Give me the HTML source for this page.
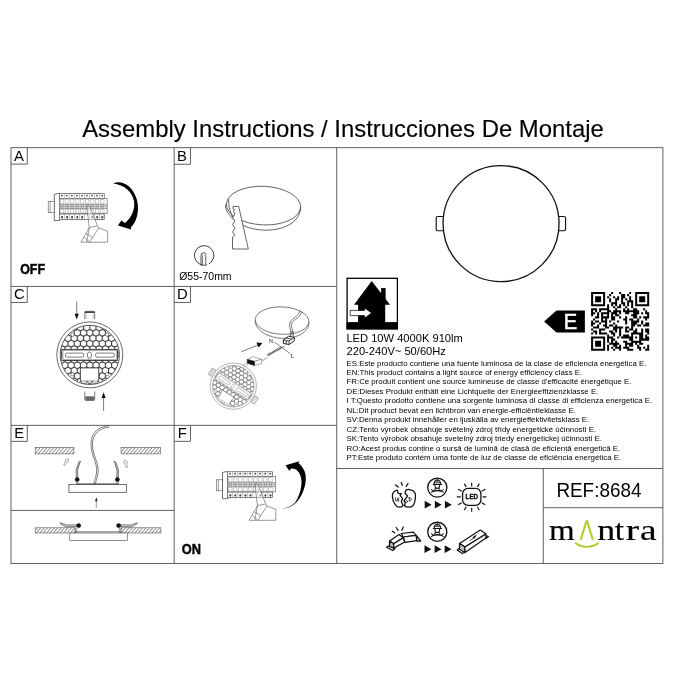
<!DOCTYPE html>
<html>
<head>
<meta charset="utf-8">
<title>Assembly Instructions</title>
<style>
html,body{margin:0;padding:0;background:#fff;}
body{width:676px;height:676px;overflow:hidden;position:relative;font-family:"Liberation Sans",sans-serif;}
svg{position:absolute;left:0;top:0;will-change:opacity;}
text{font-family:"Liberation Sans",sans-serif;fill:#000;}
.serif{font-family:"Liberation Serif",serif;}
.g{stroke:#444;stroke-width:0.85;fill:none;}
.k{stroke:#222;stroke-width:1;fill:none;}
.t{stroke:#555;stroke-width:0.6;fill:none;}
.s{font-size:7.84px;}
</style>
</head>
<body>
<svg width="676" height="676" viewBox="0 0 676 676">
<defs>
<g id="breaker" class="t">
<rect x="48.2" y="201.7" width="6.1" height="11" />
<line x1="50.2" y1="201.7" x2="50.2" y2="212.7"/>
<path d="M54.3,194.4 L57.5,193.6 L59.5,193.6 L59.5,220.6 L54.3,220.6 Z" fill="#fff" stroke="#333" stroke-width="0.7"/>
<rect x="59.5" y="193.7" width="44.7" height="4.8" fill="#fff" stroke="#333"/>
<rect x="59.5" y="198.5" width="47.6" height="15.2" fill="#fff"/>
<line x1="59.5" y1="204.6" x2="107.1" y2="204.6"/>
<line x1="59.5" y1="208.5" x2="107.1" y2="208.5"/>
<line x1="59.5" y1="206.5" x2="107.1" y2="206.5" stroke="#777"/>
<rect x="59.5" y="204.6" width="47.6" height="3.9" fill="#bbb" fill-opacity="0.5" stroke="none"/>
<rect x="59.5" y="214" width="44.7" height="5.4" fill="#fff" stroke="#333"/>
<circle cx="61.9" cy="195.6" r="0.9" fill="#444" stroke="none"/>
<line x1="59.4" y1="193.7" x2="59.4" y2="198.5" stroke="#999"/>
<rect x="60.2" y="199.6" width="3.6" height="4" stroke="#aaa"/>
<rect x="60.2" y="209.4" width="3.6" height="3.6" stroke="#aaa"/>
<line x1="61.0" y1="204.6" x2="61.0" y2="208.5" stroke="#777"/>
<line x1="63.0" y1="204.6" x2="63.0" y2="208.5" stroke="#777"/>
<circle cx="62.1" cy="217.2" r="1.1" fill="#444" stroke="none"/>
<line x1="62.1" y1="218" x2="62.1" y2="220.3" stroke="#666"/>
<line x1="59.4" y1="214" x2="59.4" y2="219.4" stroke="#999"/>
<circle cx="66.9" cy="195.6" r="0.9" fill="#444" stroke="none"/>
<line x1="64.4" y1="193.7" x2="64.4" y2="198.5" stroke="#999"/>
<rect x="65.2" y="199.6" width="3.6" height="4" stroke="#aaa"/>
<rect x="65.2" y="209.4" width="3.6" height="3.6" stroke="#aaa"/>
<line x1="66.0" y1="204.6" x2="66.0" y2="208.5" stroke="#777"/>
<line x1="68.0" y1="204.6" x2="68.0" y2="208.5" stroke="#777"/>
<circle cx="67.1" cy="217.2" r="1.1" fill="#444" stroke="none"/>
<line x1="67.1" y1="218" x2="67.1" y2="220.3" stroke="#666"/>
<line x1="64.4" y1="214" x2="64.4" y2="219.4" stroke="#999"/>
<circle cx="71.9" cy="195.6" r="0.9" fill="#444" stroke="none"/>
<line x1="69.4" y1="193.7" x2="69.4" y2="198.5" stroke="#999"/>
<rect x="70.2" y="199.6" width="3.6" height="4" stroke="#aaa"/>
<rect x="70.2" y="209.4" width="3.6" height="3.6" stroke="#aaa"/>
<line x1="71.0" y1="204.6" x2="71.0" y2="208.5" stroke="#777"/>
<line x1="73.0" y1="204.6" x2="73.0" y2="208.5" stroke="#777"/>
<circle cx="72.1" cy="217.2" r="1.1" fill="#444" stroke="none"/>
<line x1="72.1" y1="218" x2="72.1" y2="220.3" stroke="#666"/>
<line x1="69.4" y1="214" x2="69.4" y2="219.4" stroke="#999"/>
<circle cx="77.0" cy="195.6" r="0.9" fill="#444" stroke="none"/>
<line x1="74.5" y1="193.7" x2="74.5" y2="198.5" stroke="#999"/>
<rect x="75.3" y="199.6" width="3.6" height="4" stroke="#aaa"/>
<rect x="75.3" y="209.4" width="3.6" height="3.6" stroke="#aaa"/>
<line x1="76.1" y1="204.6" x2="76.1" y2="208.5" stroke="#777"/>
<line x1="78.1" y1="204.6" x2="78.1" y2="208.5" stroke="#777"/>
<circle cx="77.2" cy="217.2" r="1.1" fill="#444" stroke="none"/>
<line x1="77.2" y1="218" x2="77.2" y2="220.3" stroke="#666"/>
<line x1="74.5" y1="214" x2="74.5" y2="219.4" stroke="#999"/>
<circle cx="82.0" cy="195.6" r="0.9" fill="#444" stroke="none"/>
<line x1="79.5" y1="193.7" x2="79.5" y2="198.5" stroke="#999"/>
<rect x="80.3" y="199.6" width="3.6" height="4" stroke="#aaa"/>
<rect x="80.3" y="209.4" width="3.6" height="3.6" stroke="#aaa"/>
<line x1="81.1" y1="204.6" x2="81.1" y2="208.5" stroke="#777"/>
<line x1="83.1" y1="204.6" x2="83.1" y2="208.5" stroke="#777"/>
<circle cx="82.2" cy="217.2" r="1.1" fill="#444" stroke="none"/>
<line x1="82.2" y1="218" x2="82.2" y2="220.3" stroke="#666"/>
<line x1="79.5" y1="214" x2="79.5" y2="219.4" stroke="#999"/>
<circle cx="87.0" cy="195.6" r="0.9" fill="#444" stroke="none"/>
<line x1="84.5" y1="193.7" x2="84.5" y2="198.5" stroke="#999"/>
<rect x="85.3" y="199.6" width="3.6" height="4" stroke="#aaa"/>
<rect x="85.3" y="209.4" width="3.6" height="3.6" stroke="#aaa"/>
<line x1="86.1" y1="204.6" x2="86.1" y2="208.5" stroke="#777"/>
<line x1="88.1" y1="204.6" x2="88.1" y2="208.5" stroke="#777"/>
<line x1="84.5" y1="214" x2="84.5" y2="219.4" stroke="#999"/>
<circle cx="92.0" cy="195.6" r="0.9" fill="#444" stroke="none"/>
<line x1="89.5" y1="193.7" x2="89.5" y2="198.5" stroke="#999"/>
<rect x="90.3" y="199.6" width="3.6" height="4" stroke="#aaa"/>
<rect x="90.3" y="209.4" width="3.6" height="3.6" stroke="#aaa"/>
<line x1="91.1" y1="204.6" x2="91.1" y2="208.5" stroke="#777"/>
<line x1="93.1" y1="204.6" x2="93.1" y2="208.5" stroke="#777"/>
<circle cx="92.2" cy="217.2" r="1.1" fill="#444" stroke="none"/>
<line x1="92.2" y1="218" x2="92.2" y2="220.3" stroke="#666"/>
<line x1="89.5" y1="214" x2="89.5" y2="219.4" stroke="#999"/>
<circle cx="97.0" cy="195.6" r="0.9" fill="#444" stroke="none"/>
<line x1="94.5" y1="193.7" x2="94.5" y2="198.5" stroke="#999"/>
<rect x="95.3" y="199.6" width="3.6" height="4" stroke="#aaa"/>
<rect x="95.3" y="209.4" width="3.6" height="3.6" stroke="#aaa"/>
<line x1="96.1" y1="204.6" x2="96.1" y2="208.5" stroke="#777"/>
<line x1="98.1" y1="204.6" x2="98.1" y2="208.5" stroke="#777"/>
<circle cx="97.2" cy="217.2" r="1.1" fill="#444" stroke="none"/>
<line x1="97.2" y1="218" x2="97.2" y2="220.3" stroke="#666"/>
<line x1="94.5" y1="214" x2="94.5" y2="219.4" stroke="#999"/>
<circle cx="102.1" cy="195.6" r="0.9" fill="#444" stroke="none"/>
<line x1="99.6" y1="193.7" x2="99.6" y2="198.5" stroke="#999"/>
<rect x="100.4" y="199.6" width="3.6" height="4" stroke="#aaa"/>
<rect x="100.4" y="209.4" width="3.6" height="3.6" stroke="#aaa"/>
<line x1="101.2" y1="204.6" x2="101.2" y2="208.5" stroke="#777"/>
<line x1="103.2" y1="204.6" x2="103.2" y2="208.5" stroke="#777"/>
<circle cx="102.3" cy="217.2" r="1.1" fill="#444" stroke="none"/>
<line x1="102.3" y1="218" x2="102.3" y2="220.3" stroke="#666"/>
<line x1="99.6" y1="214" x2="99.6" y2="219.4" stroke="#999"/>
<path d="M86.9,205.6 L88.3,204.9 L90.6,208.5 L97.3,225.4 L98.8,228 L107.6,231.1 L107.6,242.2 L81,242.2 L89.3,227.5 L87.6,214 Z" fill="#fff" fill-opacity="0.45"/>
<path d="M98.8,228 L89.5,242.2 M89.3,227.5 L86.6,242.2 M89.3,227.5 L97.3,226 M86,233.5 L92.5,237.5 M84,237 L89.5,242.2"/>
</g>
</defs>
<!-- TITLE -->
<text x="82.2" y="136.9" font-size="23.8" textLength="521.6" lengthAdjust="spacingAndGlyphs" stroke="#000" stroke-width="0.15">Assembly Instructions / Instrucciones De Montaje</text>
<!-- FRAME -->
<g class="g">
<rect x="11" y="147.7" width="651.9" height="415.7"/>
<line x1="174.15" y1="147.7" x2="174.15" y2="563.4"/>
<line x1="336.7" y1="147.7" x2="336.7" y2="563.4"/>
<line x1="11" y1="286.45" x2="336.7" y2="286.45"/>
<line x1="11" y1="425.35" x2="336.7" y2="425.35"/>
<line x1="11" y1="510.4" x2="174.15" y2="510.4"/>
<line x1="336.7" y1="468.5" x2="662.9" y2="468.5"/>
<line x1="543.3" y1="468.5" x2="543.3" y2="563.4"/>
<line x1="543.3" y1="507.7" x2="662.9" y2="507.7"/>
<path d="M27.3,147.7 V164.1 H11.0"/>
<path d="M190.45000000000002,147.7 V164.29999999999998 H174.15"/>
<path d="M27.3,286.45 V302.45 H11.0"/>
<path d="M190.45000000000002,286.45 V302.45 H174.15"/>
<path d="M27.3,425.35 V441.35 H11.0"/>
<path d="M190.45000000000002,425.35 V441.35 H174.15"/>
</g>
<g font-size="14.8" text-anchor="middle">
<text x="18.9" y="160.7">A</text>
<text x="182" y="160.6">B</text>
<text x="19.3" y="299">C</text>
<text x="182.4" y="299">D</text>
<text x="19.2" y="438">E</text>
<text x="182.3" y="438">F</text>
</g>
<!-- PANEL A -->
<use href="#breaker"/>
<path d="M113.2,183.4 C122,179.6 133,186 137,200 C140,212 136,223 130.7,227.6 L131.2,229.6 L117.9,225.6 L121.4,220.4 L125,222.9 C131,218 135.4,210 134,201 C132.3,191.5 124,184.6 113.2,183.4 Z" fill="#000"/>
<text x="20.2" y="274.3" font-size="15.4" font-weight="bold" textLength="24.8" lengthAdjust="spacingAndGlyphs" stroke="#111" stroke-width="0.55">OFF</text>
<!-- PANEL F -->
<use href="#breaker" transform="translate(168.2,278.1)"/>
<path d="M281.9,508.5 C291,508.8 299,502 303.1,491.4 C306.5,483 307,474 303.1,468.6 C301.5,466 300,464 298.5,462.9 L299.5,461.2 L285.5,465.3 L289.2,470.7 L291.2,468.6 C294,468.5 296,469.3 297.4,470.7 C300.5,473.5 302,479 301.4,485 C300.6,492 298,498.5 294.9,502.8 C291,506.5 287,508.3 281.9,508.5 Z" fill="#000"/>
<text x="181.8" y="553.9" font-size="15.3" font-weight="bold" textLength="19.2" lengthAdjust="spacingAndGlyphs" stroke="#111" stroke-width="0.55">ON</text>
<!-- PANEL B -->
<g stroke="#333" stroke-width="0.75" fill="none">
<path d="M225.6,204.5 C224.2,214 240,229.8 265,230.2 C288,230.5 301.5,219 300.6,206"/>
<ellipse cx="263.5" cy="205.6" rx="37.1" ry="19.3" transform="rotate(2.5 263.5 205.6)" fill="#fff"/>
<path d="M228.6,199.2 C228.6,207 230.5,213.5 233,217.6"/>
<path d="M233,206.4 L238.7,206.4 L248.3,249 L232.5,249 L232.5,237.1 L235,234.9 L232.5,232 L235,228.3 L232.5,224.6 L235,220.9 L232.5,217.9 L235,214.2 L233.4,211.2 L234.6,209.6 L233,208.8 Z" fill="#fff"/>
</g>
<g stroke="#222" stroke-width="0.9" fill="none" stroke-linecap="round">
<path d="M201,264.6 A9.7,9.7 0 1 1 209.2,263.7"/>
<path d="M201,264.8 L201,255.3 Q201.2,252.8 203.6,252.8 Q205.6,252.8 206,254.6 L205.2,255.7 L206.3,256.8 L205.2,258 L206.3,259.2 L205.2,260.4 L206.3,261.6 L205.2,262.8 L206.3,264 L206.3,264.8 Z" stroke-width="0.8"/>
<path d="M202.5,264.8 L202.5,255.6" stroke-width="0.6"/>
</g>
<text x="179.2" y="279.6" font-size="10.6" textLength="52.4" lengthAdjust="spacingAndGlyphs">Ø55-70mm</text>
<!-- PANEL C -->
<defs>
<g id="lampback">
<clipPath id="hc"><circle cx="89.8" cy="354.9" r="29.3"/></clipPath>
<circle cx="89.8" cy="354.9" r="33" fill="#fff" stroke="#444" stroke-width="0.8"/>
<circle cx="89.8" cy="354.9" r="29.6" fill="none" stroke="#444" stroke-width="0.9"/>
<path clip-path="url(#hc)" d="M92.9,323.8 L89.8,325.6 L86.7,323.8 L86.7,320.2 L89.8,318.4 L92.9,320.2ZM77.3,329.2 L74.2,331.0 L71.1,329.2 L71.1,325.6 L74.2,323.8 L77.3,325.6ZM83.6,329.2 L80.4,331.0 L77.3,329.2 L77.3,325.6 L80.4,323.8 L83.6,325.6ZM89.8,329.2 L86.7,331.0 L83.6,329.2 L83.6,325.6 L86.7,323.8 L89.8,325.6ZM96.0,329.2 L92.9,331.0 L89.8,329.2 L89.8,325.6 L92.9,323.8 L96.0,325.6ZM102.3,329.2 L99.2,331.0 L96.0,329.2 L96.0,325.6 L99.2,323.8 L102.3,325.6ZM108.5,329.2 L105.4,331.0 L102.3,329.2 L102.3,325.6 L105.4,323.8 L108.5,325.6ZM74.2,334.6 L71.1,336.4 L68.0,334.6 L68.0,331.0 L71.1,329.2 L74.2,331.0ZM80.4,334.6 L77.3,336.4 L74.2,334.6 L74.2,331.0 L77.3,329.2 L80.4,331.0ZM86.7,334.6 L83.6,336.4 L80.4,334.6 L80.4,331.0 L83.6,329.2 L86.7,331.0ZM92.9,334.6 L89.8,336.4 L86.7,334.6 L86.7,331.0 L89.8,329.2 L92.9,331.0ZM99.2,334.6 L96.0,336.4 L92.9,334.6 L92.9,331.0 L96.0,329.2 L99.2,331.0ZM105.4,334.6 L102.3,336.4 L99.2,334.6 L99.2,331.0 L102.3,329.2 L105.4,331.0ZM111.6,334.6 L108.5,336.4 L105.4,334.6 L105.4,331.0 L108.5,329.2 L111.6,331.0ZM64.9,340.0 L61.7,341.8 L58.6,340.0 L58.6,336.4 L61.7,334.6 L64.9,336.4ZM71.1,340.0 L68.0,341.8 L64.9,340.0 L64.9,336.4 L68.0,334.6 L71.1,336.4ZM77.3,340.0 L74.2,341.8 L71.1,340.0 L71.1,336.4 L74.2,334.6 L77.3,336.4ZM83.6,340.0 L80.4,341.8 L77.3,340.0 L77.3,336.4 L80.4,334.6 L83.6,336.4ZM89.8,340.0 L86.7,341.8 L83.6,340.0 L83.6,336.4 L86.7,334.6 L89.8,336.4ZM96.0,340.0 L92.9,341.8 L89.8,340.0 L89.8,336.4 L92.9,334.6 L96.0,336.4ZM102.3,340.0 L99.2,341.8 L96.0,340.0 L96.0,336.4 L99.2,334.6 L102.3,336.4ZM108.5,340.0 L105.4,341.8 L102.3,340.0 L102.3,336.4 L105.4,334.6 L108.5,336.4ZM114.7,340.0 L111.6,341.8 L108.5,340.0 L108.5,336.4 L111.6,334.6 L114.7,336.4ZM121.0,340.0 L117.9,341.8 L114.7,340.0 L114.7,336.4 L117.9,334.6 L121.0,336.4ZM68.0,345.4 L64.9,347.2 L61.7,345.4 L61.7,341.8 L64.9,340.0 L68.0,341.8ZM74.2,345.4 L71.1,347.2 L68.0,345.4 L68.0,341.8 L71.1,340.0 L74.2,341.8ZM80.4,345.4 L77.3,347.2 L74.2,345.4 L74.2,341.8 L77.3,340.0 L80.4,341.8ZM86.7,345.4 L83.6,347.2 L80.4,345.4 L80.4,341.8 L83.6,340.0 L86.7,341.8ZM92.9,345.4 L89.8,347.2 L86.7,345.4 L86.7,341.8 L89.8,340.0 L92.9,341.8ZM99.2,345.4 L96.0,347.2 L92.9,345.4 L92.9,341.8 L96.0,340.0 L99.2,341.8ZM105.4,345.4 L102.3,347.2 L99.2,345.4 L99.2,341.8 L102.3,340.0 L105.4,341.8ZM111.6,345.4 L108.5,347.2 L105.4,345.4 L105.4,341.8 L108.5,340.0 L111.6,341.8ZM117.9,345.4 L114.7,347.2 L111.6,345.4 L111.6,341.8 L114.7,340.0 L117.9,341.8ZM64.9,350.8 L61.7,352.6 L58.6,350.8 L58.6,347.2 L61.7,345.4 L64.9,347.2ZM71.1,350.8 L68.0,352.6 L64.9,350.8 L64.9,347.2 L68.0,345.4 L71.1,347.2ZM77.3,350.8 L74.2,352.6 L71.1,350.8 L71.1,347.2 L74.2,345.4 L77.3,347.2ZM83.6,350.8 L80.4,352.6 L77.3,350.8 L77.3,347.2 L80.4,345.4 L83.6,347.2ZM89.8,350.8 L86.7,352.6 L83.6,350.8 L83.6,347.2 L86.7,345.4 L89.8,347.2ZM96.0,350.8 L92.9,352.6 L89.8,350.8 L89.8,347.2 L92.9,345.4 L96.0,347.2ZM102.3,350.8 L99.2,352.6 L96.0,350.8 L96.0,347.2 L99.2,345.4 L102.3,347.2ZM108.5,350.8 L105.4,352.6 L102.3,350.8 L102.3,347.2 L105.4,345.4 L108.5,347.2ZM114.7,350.8 L111.6,352.6 L108.5,350.8 L108.5,347.2 L111.6,345.4 L114.7,347.2ZM121.0,350.8 L117.9,352.6 L114.7,350.8 L114.7,347.2 L117.9,345.4 L121.0,347.2ZM61.7,356.2 L58.6,358.0 L55.5,356.2 L55.5,352.6 L58.6,350.8 L61.7,352.6ZM68.0,356.2 L64.9,358.0 L61.7,356.2 L61.7,352.6 L64.9,350.8 L68.0,352.6ZM74.2,356.2 L71.1,358.0 L68.0,356.2 L68.0,352.6 L71.1,350.8 L74.2,352.6ZM80.4,356.2 L77.3,358.0 L74.2,356.2 L74.2,352.6 L77.3,350.8 L80.4,352.6ZM86.7,356.2 L83.6,358.0 L80.4,356.2 L80.4,352.6 L83.6,350.8 L86.7,352.6ZM92.9,356.2 L89.8,358.0 L86.7,356.2 L86.7,352.6 L89.8,350.8 L92.9,352.6ZM99.2,356.2 L96.0,358.0 L92.9,356.2 L92.9,352.6 L96.0,350.8 L99.2,352.6ZM105.4,356.2 L102.3,358.0 L99.2,356.2 L99.2,352.6 L102.3,350.8 L105.4,352.6ZM111.6,356.2 L108.5,358.0 L105.4,356.2 L105.4,352.6 L108.5,350.8 L111.6,352.6ZM117.9,356.2 L114.7,358.0 L111.6,356.2 L111.6,352.6 L114.7,350.8 L117.9,352.6ZM124.1,356.2 L121.0,358.0 L117.9,356.2 L117.9,352.6 L121.0,350.8 L124.1,352.6ZM64.9,361.6 L61.7,363.4 L58.6,361.6 L58.6,358.0 L61.7,356.2 L64.9,358.0ZM71.1,361.6 L68.0,363.4 L64.9,361.6 L64.9,358.0 L68.0,356.2 L71.1,358.0ZM77.3,361.6 L74.2,363.4 L71.1,361.6 L71.1,358.0 L74.2,356.2 L77.3,358.0ZM83.6,361.6 L80.4,363.4 L77.3,361.6 L77.3,358.0 L80.4,356.2 L83.6,358.0ZM89.8,361.6 L86.7,363.4 L83.6,361.6 L83.6,358.0 L86.7,356.2 L89.8,358.0ZM96.0,361.6 L92.9,363.4 L89.8,361.6 L89.8,358.0 L92.9,356.2 L96.0,358.0ZM102.3,361.6 L99.2,363.4 L96.0,361.6 L96.0,358.0 L99.2,356.2 L102.3,358.0ZM108.5,361.6 L105.4,363.4 L102.3,361.6 L102.3,358.0 L105.4,356.2 L108.5,358.0ZM114.7,361.6 L111.6,363.4 L108.5,361.6 L108.5,358.0 L111.6,356.2 L114.7,358.0ZM121.0,361.6 L117.9,363.4 L114.7,361.6 L114.7,358.0 L117.9,356.2 L121.0,358.0ZM61.7,367.0 L58.6,368.8 L55.5,367.0 L55.5,363.4 L58.6,361.6 L61.7,363.4ZM68.0,367.0 L64.9,368.8 L61.7,367.0 L61.7,363.4 L64.9,361.6 L68.0,363.4ZM74.2,367.0 L71.1,368.8 L68.0,367.0 L68.0,363.4 L71.1,361.6 L74.2,363.4ZM80.4,367.0 L77.3,368.8 L74.2,367.0 L74.2,363.4 L77.3,361.6 L80.4,363.4ZM86.7,367.0 L83.6,368.8 L80.4,367.0 L80.4,363.4 L83.6,361.6 L86.7,363.4ZM92.9,367.0 L89.8,368.8 L86.7,367.0 L86.7,363.4 L89.8,361.6 L92.9,363.4ZM99.2,367.0 L96.0,368.8 L92.9,367.0 L92.9,363.4 L96.0,361.6 L99.2,363.4ZM105.4,367.0 L102.3,368.8 L99.2,367.0 L99.2,363.4 L102.3,361.6 L105.4,363.4ZM111.6,367.0 L108.5,368.8 L105.4,367.0 L105.4,363.4 L108.5,361.6 L111.6,363.4ZM117.9,367.0 L114.7,368.8 L111.6,367.0 L111.6,363.4 L114.7,361.6 L117.9,363.4ZM124.1,367.0 L121.0,368.8 L117.9,367.0 L117.9,363.4 L121.0,361.6 L124.1,363.4ZM64.9,372.4 L61.7,374.2 L58.6,372.4 L58.6,368.8 L61.7,367.0 L64.9,368.8ZM71.1,372.4 L68.0,374.2 L64.9,372.4 L64.9,368.8 L68.0,367.0 L71.1,368.8ZM77.3,372.4 L74.2,374.2 L71.1,372.4 L71.1,368.8 L74.2,367.0 L77.3,368.8ZM83.6,372.4 L80.4,374.2 L77.3,372.4 L77.3,368.8 L80.4,367.0 L83.6,368.8ZM89.8,372.4 L86.7,374.2 L83.6,372.4 L83.6,368.8 L86.7,367.0 L89.8,368.8ZM96.0,372.4 L92.9,374.2 L89.8,372.4 L89.8,368.8 L92.9,367.0 L96.0,368.8ZM102.3,372.4 L99.2,374.2 L96.0,372.4 L96.0,368.8 L99.2,367.0 L102.3,368.8ZM108.5,372.4 L105.4,374.2 L102.3,372.4 L102.3,368.8 L105.4,367.0 L108.5,368.8ZM114.7,372.4 L111.6,374.2 L108.5,372.4 L108.5,368.8 L111.6,367.0 L114.7,368.8ZM121.0,372.4 L117.9,374.2 L114.7,372.4 L114.7,368.8 L117.9,367.0 L121.0,368.8ZM68.0,377.8 L64.9,379.6 L61.7,377.8 L61.7,374.2 L64.9,372.4 L68.0,374.2ZM74.2,377.8 L71.1,379.6 L68.0,377.8 L68.0,374.2 L71.1,372.4 L74.2,374.2ZM80.4,377.8 L77.3,379.6 L74.2,377.8 L74.2,374.2 L77.3,372.4 L80.4,374.2ZM86.7,377.8 L83.6,379.6 L80.4,377.8 L80.4,374.2 L83.6,372.4 L86.7,374.2ZM92.9,377.8 L89.8,379.6 L86.7,377.8 L86.7,374.2 L89.8,372.4 L92.9,374.2ZM99.2,377.8 L96.0,379.6 L92.9,377.8 L92.9,374.2 L96.0,372.4 L99.2,374.2ZM105.4,377.8 L102.3,379.6 L99.2,377.8 L99.2,374.2 L102.3,372.4 L105.4,374.2ZM111.6,377.8 L108.5,379.6 L105.4,377.8 L105.4,374.2 L108.5,372.4 L111.6,374.2ZM117.9,377.8 L114.7,379.6 L111.6,377.8 L111.6,374.2 L114.7,372.4 L117.9,374.2ZM77.3,383.2 L74.2,385.0 L71.1,383.2 L71.1,379.6 L74.2,377.8 L77.3,379.6ZM83.6,383.2 L80.4,385.0 L77.3,383.2 L77.3,379.6 L80.4,377.8 L83.6,379.6ZM89.8,383.2 L86.7,385.0 L83.6,383.2 L83.6,379.6 L86.7,377.8 L89.8,379.6ZM96.0,383.2 L92.9,385.0 L89.8,383.2 L89.8,379.6 L92.9,377.8 L96.0,379.6ZM102.3,383.2 L99.2,385.0 L96.0,383.2 L96.0,379.6 L99.2,377.8 L102.3,379.6ZM108.5,383.2 L105.4,385.0 L102.3,383.2 L102.3,379.6 L105.4,377.8 L108.5,379.6ZM86.7,388.6 L83.6,390.4 L80.4,388.6 L80.4,385.0 L83.6,383.2 L86.7,385.0ZM92.9,388.6 L89.8,390.4 L86.7,388.6 L86.7,385.0 L89.8,383.2 L92.9,385.0ZM99.2,388.6 L96.0,390.4 L92.9,388.6 L92.9,385.0 L96.0,383.2 L99.2,385.0Z" fill="none" stroke="#4a4a4a" stroke-width="1.15"/>
<circle cx="72.5" cy="334.6" r="1.7" fill="#fff" stroke="#444" stroke-width="0.6"/>
<circle cx="107" cy="334.6" r="1.7" fill="#fff" stroke="#444" stroke-width="0.6"/>
<circle cx="72.5" cy="374.2" r="1.7" fill="#fff" stroke="#444" stroke-width="0.6"/>
<circle cx="107" cy="374.2" r="1.7" fill="#fff" stroke="#444" stroke-width="0.6"/>
<rect x="61.8" y="349.4" width="55.6" height="11.1" fill="#fff" stroke="#333" stroke-width="0.9"/>
<rect x="63" y="350.6" width="53.2" height="8.7" fill="none" stroke="#666" stroke-width="0.5"/>
<rect x="65.5" y="353.1" width="18.2" height="4" rx="1.2" fill="#fff" stroke="#444" stroke-width="0.7"/>
<rect x="95.6" y="353.1" width="18.7" height="4" rx="1.2" fill="#fff" stroke="#444" stroke-width="0.7"/>
<rect x="87.5" y="352" width="3.9" height="6.3" rx="1.9" fill="#fff" stroke="#444" stroke-width="0.7"/>
<rect x="80.3" y="367.9" width="18.5" height="13.3" fill="#fff" stroke="#333" stroke-width="0.9"/>
<path d="M81.5,381.2 v2 h5 v-2 M88,381.2 v2 h3.5 v-2 M93,381.2 v2 h4.5 v-2" fill="#fff" stroke="#444" stroke-width="0.6"/>
</g>
</defs>
<use href="#lampback"/>
<g stroke="#444" stroke-width="0.7" fill="none">
<path d="M84.8,319.3 L84.8,312.6 Q84.8,311.3 86.2,311.3 L93.3,311.3 Q94.7,311.3 94.7,312.6 L94.7,319.3"/>
<path d="M84.8,312.2 H94.7" stroke="#222" stroke-width="1.3"/>
<path d="M86.3,313.5 V319 M93.2,313.5 V319" stroke="#888" stroke-width="0.5"/>
<path d="M84.8,391.5 L84.8,399.2 Q84.8,400.5 86.2,400.5 L93.3,400.5 Q94.7,400.5 94.7,399.2 L94.7,391.5"/>
<rect x="85.3" y="396.3" width="9" height="4" fill="#666" stroke="none"/>
</g>
<g stroke="#222" stroke-width="0.6" fill="#111">
<line x1="76.7" y1="301.3" x2="76.7" y2="315"/>
<polygon points="76.7,319.6 74.6,313.8 78.8,313.8" stroke="none"/>
<line x1="103.6" y1="411" x2="103.6" y2="397"/>
<polygon points="103.6,392.3 101.5,398.1 105.7,398.1" stroke="none"/>
</g>
<!-- PANEL D -->
<g stroke="#444" stroke-width="0.7" fill="none">
<path d="M255.3,320.5 C254.5,328.5 266,338.3 284,338.3 C300,338.3 310,330 308.9,321.5"/>
<ellipse cx="282.1" cy="320.6" rx="26.8" ry="13.7" transform="rotate(2.5 282.1 320.6)" fill="#fff"/>
<path d="M300.2,310.6 C298,318 290,318 289.6,324.5 C289.3,327.5 290.8,329.5 291,332.5" />
<path d="M301.8,311.8 C299.5,319.5 291.6,319.5 291.4,324.8 C291.3,327.5 292.6,329.5 292.8,332.5" />
</g>
<g stroke="#222" stroke-width="1" fill="#fff" stroke-linejoin="round">
<path d="M291,331 L290.6,336.5 M292.9,331 L293.2,336.3" stroke-width="0.8"/>
<path d="M283.4,340 L288.5,336.2 L294.3,337.3 L294.3,340.8 L289,344.5 L283.4,343.5 Z"/>
<path d="M283.4,340 L289,341 L294.3,337.3 M289,341 L289,344.5 M286.1,340.5 L286.1,344 M286,338 L291.6,339.1" fill="none" stroke-width="0.8"/>
</g>
<text class="serif" x="268.7" y="342.9" font-size="6.3" style="fill:#222">N</text>
<text class="serif" x="290.6" y="357.7" font-size="6.4" style="fill:#222">L</text>
<line x1="274.3" y1="342" x2="290.3" y2="353.8" stroke="#333" stroke-width="0.6"/>
<line x1="241.2" y1="351.8" x2="259" y2="344.6" stroke="#222" stroke-width="0.6"/>
<polygon points="262.5,343 256.4,342.6 258.6,347.4" fill="#111"/>
<line x1="267.6" y1="355.3" x2="281.4" y2="347.4" stroke="#333" stroke-width="2.3" stroke-dasharray="0.8,0.5"/>
<path d="M281.4,347.4 L284.5,346.6" stroke="#444" stroke-width="0.8"/>
<path d="M261.5,360.8 L266.8,357.2 M261.5,361.8 L267.6,357.8" stroke="#999" stroke-width="0.6" fill="none"/>
<g stroke="#777" stroke-width="0.6" fill="#fff" stroke-linejoin="round">
<path d="M247.3,359.5 L253.3,356.6 L261.5,359.3 L254.4,361.4 Z"/>
<path d="M254.4,361.4 L261.5,359.3 L261.5,363.6 L254.4,365.5 Z"/>
<path d="M247.3,359.5 L254.4,361.4 L254.4,365.5 L247.3,363.2 Z" fill="#111" stroke="#111"/>
<path d="M247.3,362 L238.5,369.5 M248.6,363.5 L240.5,370.5" fill="none" stroke="#888"/>
</g>
<g transform="translate(233.3,386.2) rotate(33) scale(0.70) translate(-89.8,-354.9)" opacity="0.62">
<use href="#lampback"/>
<rect x="50.5" y="349.5" width="6.5" height="10.5" fill="#fff" stroke="#444" stroke-width="0.9"/>
<rect x="122.6" y="349.5" width="6.5" height="10.5" fill="#fff" stroke="#444" stroke-width="0.9"/>
<path d="M52,349.5 V360 M53.5,349.5 V360 M55,349.5 V360 M124,349.5 V360 M125.5,349.5 V360 M127,349.5 V360" stroke="#555" stroke-width="0.6"/>
</g>
<!-- PANEL E -->
<defs>
<pattern id="hatch" width="2.6" height="2.6" patternUnits="userSpaceOnUse" patternTransform="rotate(-50)">
<rect width="2.6" height="2.6" fill="#fff"/>
<line x1="0" y1="1.3" x2="2.6" y2="1.3" stroke="#6a6a6a" stroke-width="0.7"/>
</pattern>
</defs>
<g stroke="#444" stroke-width="0.7" fill="none">
<rect x="35.2" y="447.4" width="38.7" height="6.5" fill="url(#hatch)" stroke="#555" stroke-width="0.6"/>
<rect x="121.1" y="447.4" width="39.4" height="6.5" fill="url(#hatch)" stroke="#555" stroke-width="0.6"/>
<!-- cable -->
<path d="M109.5,425.5 C98,426.5 91.5,433 91,443 C90.5,455 97.5,462 96.6,472 C96.2,478 94.2,480 93.8,484.4"/>
<path d="M109.5,427 C99.5,428 93,434 92.5,443 C92,455 99,462 98.1,472 C97.7,478 95.8,480 95.4,484.4"/>
<!-- lamp body -->
<rect x="68.9" y="484.6" width="57.4" height="7.7" fill="#fff" stroke="#333"/>
<line x1="76.4" y1="483.9" x2="119" y2="483.9" stroke="#333" stroke-width="0.8"/>
<!-- springs -->
<path d="M76.3,478 L76.1,470 L78.9,462 L80.2,461 L80.6,461.8 L79.7,463 L77.6,470.3 L77.9,478 Z" fill="#ccc" stroke="#333" stroke-width="0.6"/>
<path d="M118.3,478 L118.5,470 L115.7,462 L114.4,461 L114,461.8 L114.9,463 L117,470.3 L116.7,478 Z" fill="#ccc" stroke="#333" stroke-width="0.6"/>
<circle cx="77.2" cy="479.6" r="2.1" fill="#111" stroke="#111" stroke-width="0.4"/>
<circle cx="117.4" cy="479.6" r="2.1" fill="#111" stroke="#111" stroke-width="0.4"/>
<path d="M76.5,481.5 L76.5,484 M78,481.5 L78,484 M116.7,481.5 L116.7,484 M118.2,481.5 L118.2,484" stroke-width="0.5"/>
<!-- little rotation arrows -->
<path d="M63.6,464.8 L65.8,460.6 L64.9,460.1 L68.4,458.5 L68.2,462.2 L67.2,461.5 L65,465.6 Z" stroke="#666" stroke-width="0.5"/>
<path d="M127.6,467.2 L126.6,462.6 L127.7,462.4 L125,459.6 L123.6,463.2 L124.8,463 L125.8,467.5 Z" stroke="#666" stroke-width="0.5"/>
<!-- up arrow -->
<line x1="96.3" y1="508" x2="96.3" y2="500.5" stroke="#333" stroke-width="0.5"/>
<polygon points="96.3,497.3 95,501.3 97.6,501.3" fill="#222" stroke="none"/>
<!-- lower -->
<rect x="35.2" y="527.8" width="39.9" height="5.2" fill="url(#hatch)" stroke="#555" stroke-width="0.6"/>
<rect x="121.1" y="527.8" width="39.8" height="5.2" fill="url(#hatch)" stroke="#555" stroke-width="0.6"/>
<line x1="75.1" y1="531.9" x2="121.1" y2="531.9" stroke="#333"/>
<rect x="69.8" y="533" width="57.5" height="7.6" fill="#fff" stroke="#555" stroke-width="0.65"/>
<path d="M77.5,526.6 L66,526.8 L60.8,524.2 L60,522.8 L62.5,523.6 L66.5,525 L77.5,524.8 Z" fill="#ddd" stroke="#333" stroke-width="0.6"/>
<path d="M119.8,526.6 L131.3,526.8 L136.5,524.2 L137.3,522.8 L134.8,523.6 L130.8,525 L119.8,524.8 Z" fill="#ddd" stroke="#333" stroke-width="0.6"/>
<circle cx="78.7" cy="525.6" r="2.1" fill="#111" stroke="#111" stroke-width="0.4"/>
<circle cx="118.6" cy="525.6" r="2.1" fill="#111" stroke="#111" stroke-width="0.4"/>
<path d="M75.3,527.8 V533 M76.8,527.8 V533 M120.9,527.8 V533 M119.4,527.8 V533" stroke-width="0.5"/>
</g>
<!-- RIGHT PANEL: lamp outline -->
<g id="lamp">
<rect x="436.2" y="216.5" width="10" height="14.2" rx="1.6" fill="none" stroke="#111" stroke-width="1.15"/>
<rect x="555.6" y="216.5" width="10" height="14.2" rx="1.6" fill="none" stroke="#111" stroke-width="1.15"/>
<circle cx="501.05" cy="223.6" r="58" fill="#fff" stroke="#111" stroke-width="1.3"/>
</g>
<!-- house icon -->
<g id="house">
<rect x="347.1" y="278.3" width="50.3" height="50.5" fill="#fff" stroke="#000" stroke-width="1.3"/>
<rect x="346.5" y="322.1" width="51.5" height="7.3" fill="#000"/>
<polygon points="371.7,281 390,304.7 354,304.7" fill="#000"/>
<rect x="381.1" y="288.1" width="4.5" height="12" fill="#000"/>
<rect x="358.1" y="304" width="27.1" height="19" fill="#000"/>
<polygon points="350.2,310.4 364.6,310.4 364.6,307.9 371.6,313 364.6,318.1 364.6,315.6 350.2,315.6" fill="#fff" stroke="#000" stroke-width="0.7"/>
</g>
<!-- energy arrow -->
<g id="earrow">
<polygon points="544.1,321.6 556.5,310.6 584.9,310.6 584.9,332.6 556.5,332.6" fill="#000"/>
<text x="570.5" y="329.3" font-size="21.3" text-anchor="middle" style="fill:#fff" stroke="#fff" stroke-width="0.5" textLength="13.4" lengthAdjust="spacingAndGlyphs">E</text>
</g>
<!-- spec text -->
<text x="346.4" y="342" font-size="11.15">LED 10W 4000K 910lm</text>
<text x="346.5" y="354.7" font-size="11.15">220-240V~ 50/60Hz</text>
<g class="s" id="lines">
<text x="346.5" y="365.5" textLength="299.9" lengthAdjust="spacingAndGlyphs">ES:Este producto contiene una fuente luminosa de la clase de eficiencia energética E.</text>
<text x="346.5" y="374.95" textLength="235.7" lengthAdjust="spacingAndGlyphs">EN:This product contains a light source of energy efficiency class E.</text>
<text x="346.5" y="384.4" textLength="285.0" lengthAdjust="spacingAndGlyphs">FR:Ce produit contient une source lumineuse de classe d'efficacité énergétique E.</text>
<text x="346.5" y="393.85" textLength="251.8" lengthAdjust="spacingAndGlyphs">DE:Dieses Produkt enthält eine Lichtquelle der Energieeffizienzklasse E.</text>
<text x="346.5" y="403.3" textLength="305.7" lengthAdjust="spacingAndGlyphs">I T:Questo prodotto contiene una sorgente luminosa di classe di efficienza energetica E.</text>
<text x="346.5" y="412.75" textLength="229.5" lengthAdjust="spacingAndGlyphs">NL:Dit product bevat een lichtbron van energie-efficiëntieklasse E.</text>
<text x="346.5" y="422.2" textLength="242.8" lengthAdjust="spacingAndGlyphs">SV:Denna produkt innehåller en ljuskälla av energieffektivitetsklass E.</text>
<text x="346.5" y="431.65" textLength="249.6" lengthAdjust="spacingAndGlyphs">CZ:Tento výrobek obsahuje světelný zdroj třídy energetické účinnosti E.</text>
<text x="346.5" y="441.1" textLength="255.4" lengthAdjust="spacingAndGlyphs">SK:Tento výrobok obsahuje svetelný zdroj triedy energetickej účinnosti E.</text>
<text x="346.5" y="450.55" textLength="273.7" lengthAdjust="spacingAndGlyphs">RO:Acest produs conține o sursă de lumină de clasă de eficiență energetică E.</text>
<text x="346.5" y="460" textLength="274.7" lengthAdjust="spacingAndGlyphs">PT:Este produto contém uma fonte de luz de classe de eficiência energética E.</text>
</g>
<!-- REF -->
<text x="556.4" y="496.8" font-size="19.8" textLength="85" lengthAdjust="spacingAndGlyphs">REF:8684</text>
<!-- mantra logo -->
<g id="mantra" font-size="30.3" stroke="#111" stroke-width="0.2">
<text class="serif" transform="translate(548.9,539.6) scale(1.09,1)">m</text>
<text class="serif" transform="translate(597.2,539.6) scale(1.187,1)">n</text>
<text class="serif" transform="translate(614.7,539.6) scale(1.107,1)">t</text>
<text class="serif" transform="translate(625.8,539.6) scale(1.325,1)">r</text>
<text class="serif" transform="translate(639.9,539.6) scale(1.235,1)">a</text>
<path d="M579.6,539.7 L585.6,520.3 L588,520.3 L593.9,539.7 L591.7,539.7 L586.8,523.6 L581.8,539.7 Z" fill="#b4cb30" stroke="none"/>
<path d="M575.6,543.2 Q586.9,550.6 598.1,543.2" fill="none" stroke="#b4cb30" stroke-width="1.8" stroke-linecap="round"/>
</g>
<!-- QR -->
<path d="M591.10,292.10h14.02v2.02h-14.02zM611.13,292.10h2.00v2.02h-2.00zM619.14,292.10h2.00v2.02h-2.00zM629.16,292.10h2.00v2.02h-2.00zM635.17,292.10h14.02v2.02h-14.02zM591.10,294.12h2.00v2.02h-2.00zM603.12,294.12h2.00v2.02h-2.00zM609.13,294.12h2.00v2.02h-2.00zM621.14,294.12h4.01v2.02h-4.01zM627.15,294.12h2.00v2.02h-2.00zM635.17,294.12h2.00v2.02h-2.00zM647.18,294.12h2.00v2.02h-2.00zM591.10,296.14h2.00v2.02h-2.00zM595.11,296.14h6.01v2.02h-6.01zM603.12,296.14h2.00v2.02h-2.00zM607.12,296.14h2.00v2.02h-2.00zM613.13,296.14h2.00v2.02h-2.00zM617.14,296.14h2.00v2.02h-2.00zM621.14,296.14h4.01v2.02h-4.01zM629.16,296.14h2.00v2.02h-2.00zM635.17,296.14h2.00v2.02h-2.00zM639.17,296.14h6.01v2.02h-6.01zM647.18,296.14h2.00v2.02h-2.00zM591.10,298.17h2.00v2.02h-2.00zM595.11,298.17h6.01v2.02h-6.01zM603.12,298.17h2.00v2.02h-2.00zM609.13,298.17h2.00v2.02h-2.00zM615.14,298.17h4.01v2.02h-4.01zM621.14,298.17h2.00v2.02h-2.00zM625.15,298.17h2.00v2.02h-2.00zM629.16,298.17h2.00v2.02h-2.00zM635.17,298.17h2.00v2.02h-2.00zM639.17,298.17h6.01v2.02h-6.01zM647.18,298.17h2.00v2.02h-2.00zM591.10,300.19h2.00v2.02h-2.00zM595.11,300.19h6.01v2.02h-6.01zM603.12,300.19h2.00v2.02h-2.00zM609.13,300.19h2.00v2.02h-2.00zM615.14,300.19h2.00v2.02h-2.00zM621.14,300.19h2.00v2.02h-2.00zM627.15,300.19h6.01v2.02h-6.01zM635.17,300.19h2.00v2.02h-2.00zM639.17,300.19h6.01v2.02h-6.01zM647.18,300.19h2.00v2.02h-2.00zM591.10,302.21h2.00v2.02h-2.00zM603.12,302.21h2.00v2.02h-2.00zM611.13,302.21h6.01v2.02h-6.01zM621.14,302.21h4.01v2.02h-4.01zM627.15,302.21h2.00v2.02h-2.00zM631.16,302.21h2.00v2.02h-2.00zM635.17,302.21h2.00v2.02h-2.00zM647.18,302.21h2.00v2.02h-2.00zM591.10,304.23h14.02v2.02h-14.02zM607.12,304.23h2.00v2.02h-2.00zM611.13,304.23h2.00v2.02h-2.00zM615.14,304.23h2.00v2.02h-2.00zM619.14,304.23h2.00v2.02h-2.00zM623.15,304.23h2.00v2.02h-2.00zM627.15,304.23h2.00v2.02h-2.00zM631.16,304.23h2.00v2.02h-2.00zM635.17,304.23h14.02v2.02h-14.02zM607.12,306.25h2.00v2.02h-2.00zM613.13,306.25h2.00v2.02h-2.00zM617.14,306.25h4.01v2.02h-4.01zM625.15,306.25h2.00v2.02h-2.00zM631.16,306.25h2.00v2.02h-2.00zM591.10,308.28h6.01v2.02h-6.01zM599.11,308.28h10.02v2.02h-10.02zM615.14,308.28h2.00v2.02h-2.00zM623.15,308.28h2.00v2.02h-2.00zM627.15,308.28h2.00v2.02h-2.00zM633.16,308.28h4.01v2.02h-4.01zM643.18,308.28h2.00v2.02h-2.00zM591.10,310.30h2.00v2.02h-2.00zM595.11,310.30h2.00v2.02h-2.00zM599.11,310.30h2.00v2.02h-2.00zM607.12,310.30h4.01v2.02h-4.01zM613.13,310.30h8.01v2.02h-8.01zM623.15,310.30h16.02v2.02h-16.02zM645.18,310.30h2.00v2.02h-2.00zM591.10,312.32h4.01v2.02h-4.01zM597.11,312.32h2.00v2.02h-2.00zM601.12,312.32h8.01v2.02h-8.01zM611.13,312.32h6.01v2.02h-6.01zM619.14,312.32h2.00v2.02h-2.00zM625.15,312.32h4.01v2.02h-4.01zM633.16,312.32h6.01v2.02h-6.01zM641.18,312.32h2.00v2.02h-2.00zM645.18,312.32h4.01v2.02h-4.01zM591.10,314.34h2.00v2.02h-2.00zM597.11,314.34h2.00v2.02h-2.00zM601.12,314.34h2.00v2.02h-2.00zM607.12,314.34h2.00v2.02h-2.00zM611.13,314.34h2.00v2.02h-2.00zM615.14,314.34h4.01v2.02h-4.01zM631.16,314.34h6.01v2.02h-6.01zM647.18,314.34h2.00v2.02h-2.00zM595.11,316.36h4.01v2.02h-4.01zM601.12,316.36h8.01v2.02h-8.01zM611.13,316.36h4.01v2.02h-4.01zM619.14,316.36h2.00v2.02h-2.00zM625.15,316.36h2.00v2.02h-2.00zM633.16,316.36h4.01v2.02h-4.01zM639.17,316.36h2.00v2.02h-2.00zM643.18,316.36h6.01v2.02h-6.01zM593.10,318.39h2.00v2.02h-2.00zM601.12,318.39h2.00v2.02h-2.00zM605.12,318.39h2.00v2.02h-2.00zM611.13,318.39h4.01v2.02h-4.01zM623.15,318.39h4.01v2.02h-4.01zM629.16,318.39h4.01v2.02h-4.01zM637.17,318.39h2.00v2.02h-2.00zM645.18,318.39h2.00v2.02h-2.00zM591.10,320.41h2.00v2.02h-2.00zM595.11,320.41h4.01v2.02h-4.01zM601.12,320.41h6.01v2.02h-6.01zM609.13,320.41h2.00v2.02h-2.00zM617.14,320.41h2.00v2.02h-2.00zM625.15,320.41h2.00v2.02h-2.00zM631.16,320.41h8.01v2.02h-8.01zM641.18,320.41h2.00v2.02h-2.00zM591.10,322.43h4.01v2.02h-4.01zM599.11,322.43h2.00v2.02h-2.00zM605.12,322.43h2.00v2.02h-2.00zM613.13,322.43h2.00v2.02h-2.00zM625.15,322.43h2.00v2.02h-2.00zM631.16,322.43h6.01v2.02h-6.01zM641.18,322.43h2.00v2.02h-2.00zM645.18,322.43h4.01v2.02h-4.01zM591.10,324.45h2.00v2.02h-2.00zM597.11,324.45h2.00v2.02h-2.00zM603.12,324.45h4.01v2.02h-4.01zM609.13,324.45h4.01v2.02h-4.01zM615.14,324.45h2.00v2.02h-2.00zM631.16,324.45h4.01v2.02h-4.01zM637.17,324.45h4.01v2.02h-4.01zM643.18,324.45h6.01v2.02h-6.01zM593.10,326.47h6.01v2.02h-6.01zM605.12,326.47h4.01v2.02h-4.01zM613.13,326.47h10.02v2.02h-10.02zM625.15,326.47h4.01v2.02h-4.01zM631.16,326.47h2.00v2.02h-2.00zM591.10,328.50h2.00v2.02h-2.00zM599.11,328.50h6.01v2.02h-6.01zM613.13,328.50h4.01v2.02h-4.01zM619.14,328.50h2.00v2.02h-2.00zM625.15,328.50h2.00v2.02h-2.00zM629.16,328.50h4.01v2.02h-4.01zM635.17,328.50h2.00v2.02h-2.00zM641.18,328.50h2.00v2.02h-2.00zM645.18,328.50h4.01v2.02h-4.01zM593.10,330.52h4.01v2.02h-4.01zM599.11,330.52h2.00v2.02h-2.00zM609.13,330.52h4.01v2.02h-4.01zM615.14,330.52h2.00v2.02h-2.00zM619.14,330.52h2.00v2.02h-2.00zM625.15,330.52h4.01v2.02h-4.01zM633.16,330.52h4.01v2.02h-4.01zM641.18,330.52h2.00v2.02h-2.00zM645.18,330.52h4.01v2.02h-4.01zM591.10,332.54h2.00v2.02h-2.00zM595.11,332.54h2.00v2.02h-2.00zM599.11,332.54h8.01v2.02h-8.01zM611.13,332.54h4.01v2.02h-4.01zM619.14,332.54h2.00v2.02h-2.00zM631.16,332.54h12.02v2.02h-12.02zM647.18,332.54h2.00v2.02h-2.00zM607.12,334.56h2.00v2.02h-2.00zM613.13,334.56h2.00v2.02h-2.00zM619.14,334.56h2.00v2.02h-2.00zM623.15,334.56h6.01v2.02h-6.01zM631.16,334.56h2.00v2.02h-2.00zM639.17,334.56h4.01v2.02h-4.01zM645.18,334.56h2.00v2.02h-2.00zM591.10,336.58h14.02v2.02h-14.02zM607.12,336.58h6.01v2.02h-6.01zM617.14,336.58h2.00v2.02h-2.00zM621.14,336.58h12.02v2.02h-12.02zM635.17,336.58h2.00v2.02h-2.00zM639.17,336.58h4.01v2.02h-4.01zM645.18,336.58h4.01v2.02h-4.01zM591.10,338.61h2.00v2.02h-2.00zM603.12,338.61h2.00v2.02h-2.00zM607.12,338.61h2.00v2.02h-2.00zM611.13,338.61h4.01v2.02h-4.01zM629.16,338.61h4.01v2.02h-4.01zM639.17,338.61h10.02v2.02h-10.02zM591.10,340.63h2.00v2.02h-2.00zM595.11,340.63h6.01v2.02h-6.01zM603.12,340.63h2.00v2.02h-2.00zM607.12,340.63h2.00v2.02h-2.00zM611.13,340.63h2.00v2.02h-2.00zM615.14,340.63h2.00v2.02h-2.00zM623.15,340.63h4.01v2.02h-4.01zM631.16,340.63h10.02v2.02h-10.02zM591.10,342.65h2.00v2.02h-2.00zM595.11,342.65h6.01v2.02h-6.01zM603.12,342.65h2.00v2.02h-2.00zM609.13,342.65h10.02v2.02h-10.02zM625.15,342.65h8.01v2.02h-8.01zM635.17,342.65h2.00v2.02h-2.00zM639.17,342.65h4.01v2.02h-4.01zM591.10,344.67h2.00v2.02h-2.00zM595.11,344.67h6.01v2.02h-6.01zM603.12,344.67h2.00v2.02h-2.00zM607.12,344.67h2.00v2.02h-2.00zM613.13,344.67h4.01v2.02h-4.01zM619.14,344.67h2.00v2.02h-2.00zM625.15,344.67h2.00v2.02h-2.00zM629.16,344.67h4.01v2.02h-4.01zM637.17,344.67h2.00v2.02h-2.00zM647.18,344.67h2.00v2.02h-2.00zM591.10,346.69h2.00v2.02h-2.00zM603.12,346.69h2.00v2.02h-2.00zM607.12,346.69h2.00v2.02h-2.00zM611.13,346.69h2.00v2.02h-2.00zM615.14,346.69h6.01v2.02h-6.01zM623.15,346.69h6.01v2.02h-6.01zM637.17,346.69h4.01v2.02h-4.01zM643.18,346.69h2.00v2.02h-2.00zM647.18,346.69h2.00v2.02h-2.00zM591.10,348.72h14.02v2.02h-14.02zM607.12,348.72h2.00v2.02h-2.00zM613.13,348.72h2.00v2.02h-2.00zM619.14,348.72h2.00v2.02h-2.00zM627.15,348.72h6.01v2.02h-6.01zM639.17,348.72h2.00v2.02h-2.00zM645.18,348.72h4.01v2.02h-4.01z" fill="#000"/>
<!-- ICONS -->
<defs>
<g id="worker">
<circle cx="0" cy="0" r="9.55" fill="#fff" stroke="#111" stroke-width="1.35"/>
<g fill="none" stroke="#111" stroke-width="1.05" stroke-linecap="round" stroke-linejoin="round">
<path d="M-3.2,-3.5 C-3.2,-9 3.2,-9 3.2,-3.5"/>
<path d="M-4,-3.3 H4.2" stroke-width="1.2"/>
<path d="M-3,-5.2 H3" stroke-width="0.7"/>
<path d="M0,-7.6 V-6.4" stroke-width="1.8" stroke="#333"/>
<path d="M-2.3,-2.8 L-2.3,-1.5 C-2.3,0.3 -1,0.7 0,0.7 C1,0.7 2.3,0.3 2.3,-1.5 L2.3,-2.8"/>
<path d="M-1.2,0.5 L-2.8,1.7 M1.2,0.5 L2.6,1.7"/>
<path d="M-4.3,3.6 Q0,2.4 4.5,3.6" stroke-width="1.5"/>
<path d="M-6,2 L-4.4,2.9 M-6,4.7 L-4.4,4 M6.1,2 L4.6,2.9 M6.1,4.7 L4.6,4" stroke-width="1"/>
</g>
</g>
<g id="tri3" fill="#111">
<polygon points="0,0 6.9,3.9 0,7.8"/>
<polygon points="10.1,0 17,3.9 10.1,7.8"/>
<polygon points="20.2,0 27.1,3.9 20.2,7.8"/>
</g>
</defs>
<use href="#worker" transform="translate(437.3,487.6)"/>
<use href="#worker" transform="translate(437.3,531.8)"/>
<use href="#tri3" transform="translate(424.7,500.8)"/>
<use href="#tri3" transform="translate(424.5,545.3)"/>
<!-- broken LED -->
<g fill="none" stroke="#111" stroke-width="1.3" stroke-linecap="round" stroke-linejoin="round">
<path d="M395.5,484.9 L398.2,487.1 M401.3,482.4 L402.2,485.3 M408,483.5 L406.2,486.5"/>
<path d="M397.3,490.2 C394,491 392.2,493.5 392.4,496.4 C392.6,499.5 393.5,502.5 395.1,504.4 C396.3,506.2 397.8,507.2 399.1,507.2 C400.8,507.2 402.3,506.5 403.1,505.3 L401.3,501.7 L402.6,498.6 L400,495.1 L401.3,493.7 L398.2,493.3 Z"/>
<path d="M406.2,489.8 C407.5,489.3 409.3,489.3 410.6,489.8 C413.7,490.8 415.6,493 415.5,495.5 C415.5,498.6 415.2,501.5 414.2,503.5 C413.2,505.8 411.5,507.2 409.7,507.2 C407.8,507.3 405.5,506.8 404.4,505.7 L405.3,502.6 L404,500.8 L407.5,496 L404.9,492.9 Z"/>
<path d="M395.6,497.8 V500.8 H397 M398.8,498 H397.8 V501 H398.9 M397.8,499.5 H398.7" stroke-width="0.8"/>
<path d="M409.2,497.6 V501 C412.2,501.2 412.2,497.4 409.2,497.6 Z" stroke-width="0.8"/>
<circle cx="406.6" cy="501.5" r="0.9" stroke-width="0.6"/>
</g>
<!-- LED good -->
<g fill="none" stroke="#111" stroke-width="1.3" stroke-linecap="round">
<rect x="462.6" y="488.4" width="18.3" height="17" rx="5.4" ry="5.4" fill="#fff"/>
<path d="M471.7,483 V486 M464.5,484.1 L466,486.6 M479.1,484.1 L477.5,486.6 M458.6,489.4 L461.3,490.9 M457.3,496.8 H460.4 M458.6,504.4 L461.3,502.9 M464.5,509.7 L466,507.2 M471.7,508.2 V511.3 M479.1,509.7 L477.5,507.2 M484.8,504.4 L482.1,502.9 M483,496.8 H486 M484.8,489.4 L482.1,490.9" stroke-width="1.15"/>
</g>
<text x="471.8" y="499.3" font-size="6.6" font-weight="bold" text-anchor="middle" textLength="12.4" stroke="#111" stroke-width="0.3" lengthAdjust="spacingAndGlyphs">LED</text>
<!-- broken driver -->
<g fill="#fff" stroke="#111" stroke-width="1.25" stroke-linejoin="round" stroke-linecap="round">
<path d="M392.3,531.2 L394.8,532.9 M396.2,527.5 L398,530.3 M403.3,527.1 L401.9,530.3" fill="none"/>
<path d="M386.6,547.3 L389.5,545.5 L395,548.5 L392.7,550.5 Z"/>
<path d="M389.5,541 L399,534.6 L403.3,537.8 L393.7,543.8 Z"/>
<path d="M389.5,541 L389.5,546.6 L393.7,548.1 L393.7,543.8 Z"/>
<path d="M393.7,543.8 L403.3,537.8 L404.7,542 L393.7,548.1 Z"/>
<path d="M390,543.3 L393.3,545 M390,545 L393.3,546.6" stroke-width="0.5" fill="none"/>
<path d="M416.1,535.3 L420.7,541 L416.8,541 Z"/>
<path d="M401.2,533.5 L413.3,532.2 L416.1,535.3 L403.3,537 Z"/>
<path d="M403.3,537 L416.1,535.3 L416.8,540.6 L405.1,542.4 Z"/>
</g>
<!-- driver -->
<g fill="#fff" stroke="#111" stroke-width="1.2" stroke-linejoin="round" stroke-linecap="round">
<path d="M457.2,550 L459.5,548.3 L464.8,551.6 L462.4,553.6 Z"/>
<path d="M485.5,535.5 L488.5,536.6 L485.9,538.6 Z"/>
<path d="M459.5,543.5 L480.3,530.1 L485.9,534 L465,547.1 Z"/>
<path d="M459.5,543.5 L459.5,549.3 L465,552.6 L465,547.1 Z"/>
<path d="M465,547.1 L485.9,534 L485.9,538 L465,552.6 Z"/>
<path d="M460,545.6 L464.5,548.5 M460,547.4 L464.5,550.3" stroke-width="0.5" fill="none"/>
<path d="M476.2,535.2 L472.8,537.6 L474.6,537.8 L470,540.6" stroke-width="0.7" fill="none"/>
<path d="M475.5,535.6 L473.4,537.3 L475,537.6 Z" fill="#111" stroke-width="0.6"/>
</g>
</svg>
</body>
</html>
